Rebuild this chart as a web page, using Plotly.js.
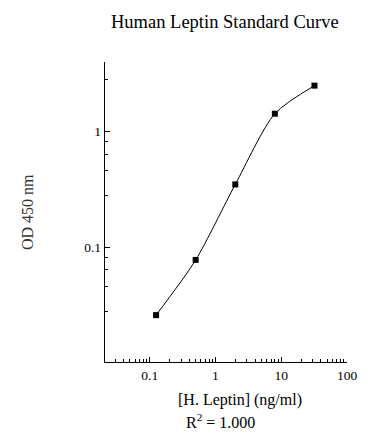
<!DOCTYPE html>
<html>
<head>
<meta charset="utf-8">
<script src="https://cdn.plot.ly/plotly-3.0.1.min.js"></script>
<style>html,body{margin:0;padding:0;background:#fff;}#chart{width:388px;height:444px;}</style>
</head>
<body>
<div id="chart"></div>
<script>
// Data
const concentration = [0.125, 0.5, 2, 8, 32];      // ng/ml
const od450 = [0.026, 0.078, 0.35, 1.43, 2.5];      // OD 450 nm
const xTickVals = [0.1, 1, 10, 100];
const xTickText = ['0.1', '1', '10', '100'];
const yTickVals = [0.1, 1];
const yTickText = ['0.1', '1'];
const titleText = 'Human Leptin Standard Curve';
const xTitle = '[H. Leptin] (ng/ml)';
const yTitle = 'OD 450 nm';
const r2Text = 'R<sup>2</sup> = 1.000';

// minor tick positions (axis styling)
const xMinor = [];
for (let e = -2; e <= 1; e++) for (let m = 2; m <= 9; m++) {
  const v = m * Math.pow(10, e);
  if (Math.log10(v) > -1.68 && v < 100) xMinor.push(v);
}
const yMinor = [];
for (let e = -2; e <= 0; e++) for (let k = 1; k <= 4; k++) {
  const v = Math.pow(10, e) * (1 + 1.8 * k);
  if (Math.log10(v) < 0.6) yMinor.push(v);
}

const serif = '"Liberation Serif", "Times New Roman", serif';

const trace = {
  x: concentration, y: od450,
  type: 'scatter', mode: 'lines+markers',
  line: {color: '#000', width: 1, shape: 'spline', smoothing: 0.75},
  marker: {symbol: 'square', size: 6, color: '#000'},
  cliponaxis: false,
  hoverinfo: 'x+y'
};

const layout = {
  width: 388, height: 444,
  margin: {l: 105, r: 41, t: 62, b: 82},
  paper_bgcolor: '#fff', plot_bgcolor: '#fff',
  showlegend: false,
  font: {family: serif, color: '#000', size: 12},
  xaxis: {
    type: 'log', range: [-1.68, 2.0],
    showgrid: false, zeroline: false,
    showline: true, linecolor: '#000', linewidth: 1.3,
    ticks: 'inside', ticklen: 5, tickwidth: 1, tickcolor: '#000',
    tickmode: 'array', tickvals: xTickVals, ticktext: xTickText,
    tickfont: {family: serif, size: 13.5, color: '#000'},
    minor: {tickmode: 'array', tickvals: xMinor, ticks: 'inside', ticklen: 3, tickwidth: 1, tickcolor: '#000', showgrid: false}
  },
  yaxis: {
    type: 'log', range: [-1.99, 0.602],
    showgrid: false, zeroline: false,
    showline: true, linecolor: '#000', linewidth: 1.3,
    ticks: 'inside', ticklen: 5, tickwidth: 1, tickcolor: '#000',
    tickmode: 'array', tickvals: yTickVals, ticktext: yTickText,
    tickfont: {family: serif, size: 13.5, color: '#000'},
    minor: {tickmode: 'array', tickvals: yMinor, ticks: 'inside', ticklen: 3, tickwidth: 1, tickcolor: '#000', showgrid: false}
  },
  annotations: [
    {text: titleText, xref: 'paper', yref: 'paper', x: (225 - 105) / 242, y: 1 + (62 - 22) / 300,
     xanchor: 'center', yanchor: 'middle', showarrow: false, font: {family: serif, size: 18.5, color: '#000'}},
    {text: xTitle, xref: 'paper', yref: 'paper', x: (240 - 105) / 242, y: -(400 - 362) / 300,
     xanchor: 'center', yanchor: 'middle', showarrow: false, font: {family: serif, size: 16, color: '#000'}},
    {text: r2Text, xref: 'paper', yref: 'paper', x: (220 - 105) / 242, y: -(421 - 362) / 300,
     xanchor: 'center', yanchor: 'middle', showarrow: false, font: {family: serif, size: 16, color: '#000'}},
    {text: yTitle, xref: 'paper', yref: 'paper', x: -(105 - 27) / 242, y: (362 - 212) / 300,
     xanchor: 'center', yanchor: 'middle', textangle: -90, showarrow: false, font: {family: serif, size: 16, color: '#333'}}
  ]
};

Plotly.newPlot('chart', [trace], layout, {displayModeBar: false, staticPlot: true});
</script>
</body>
</html>
